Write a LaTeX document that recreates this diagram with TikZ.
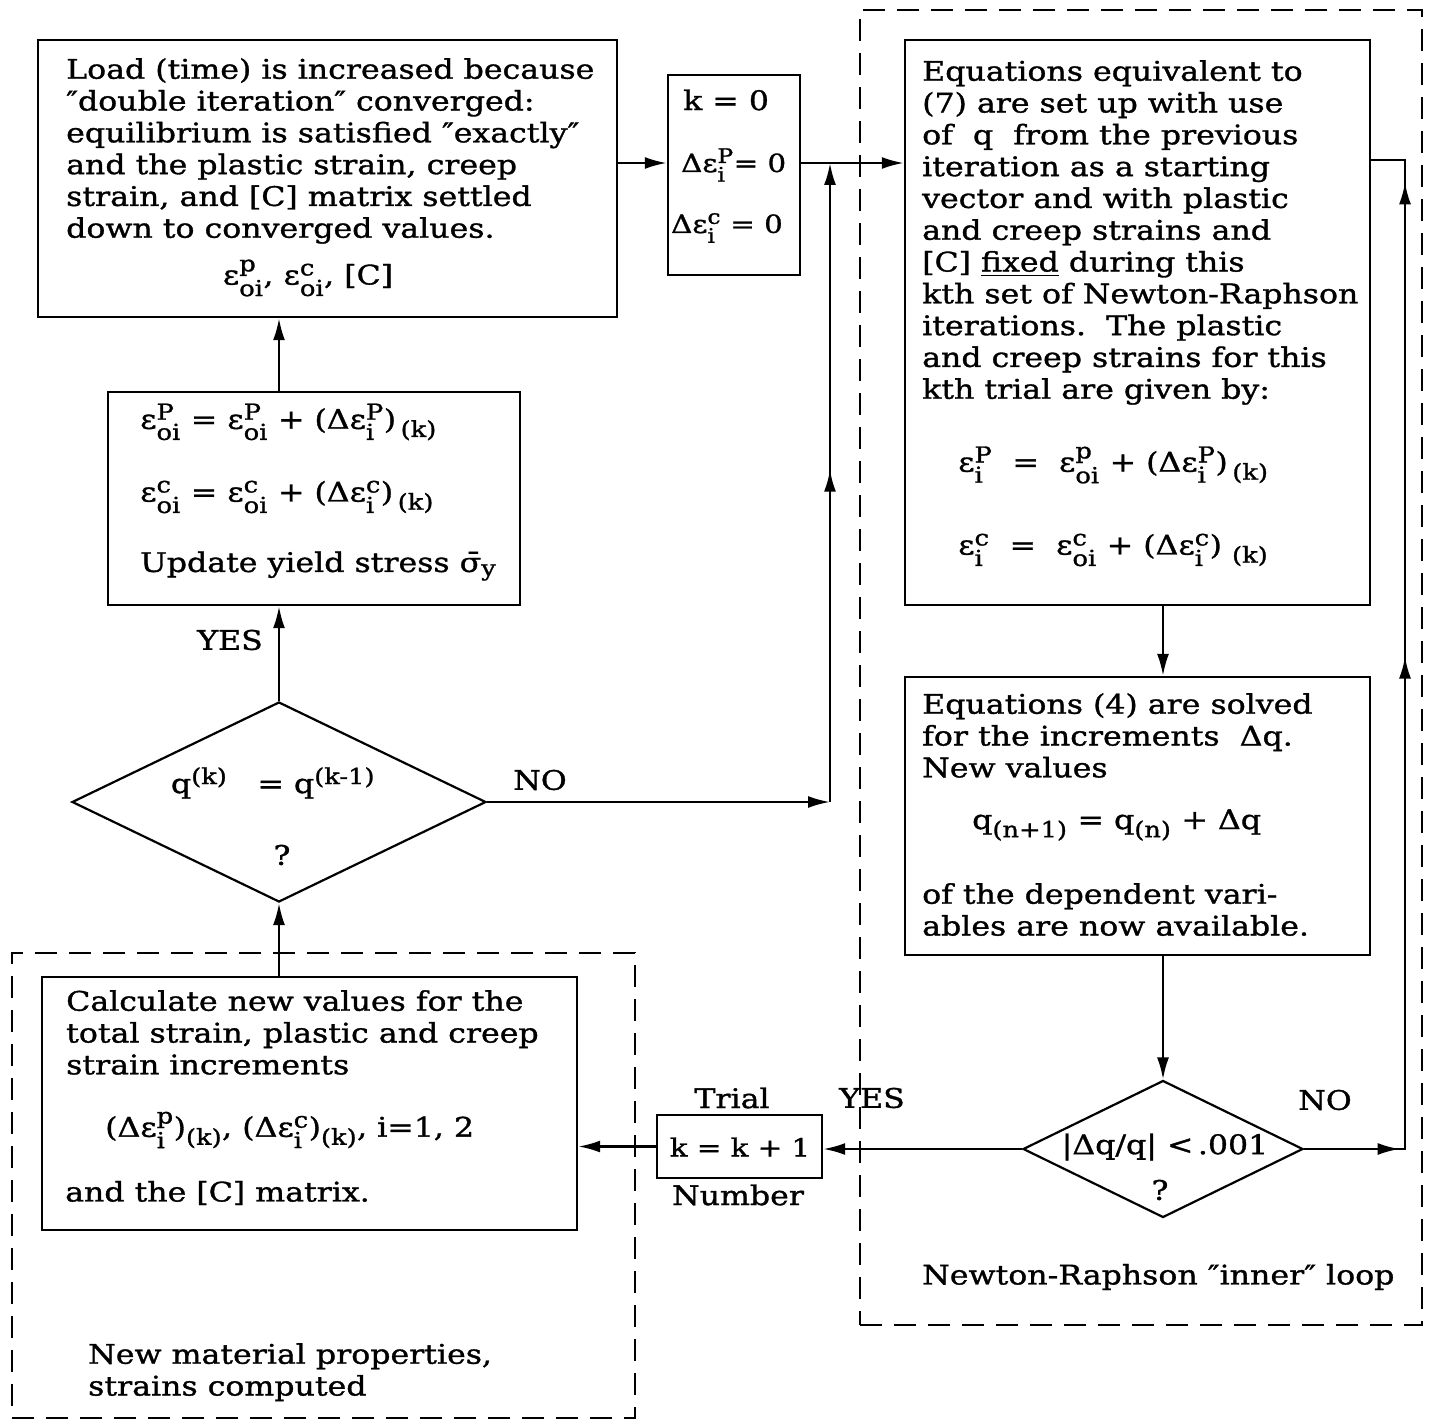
\documentclass[tikz,border=0pt]{standalone}
\usepackage{fontspec}
\usepackage{amsmath}
\setmainfont{DejaVu Serif}[FakeStretch=1.17, FakeBold=1.2]
\DeclareMathSizes{27}{27}{22}{17}
\DeclareMathSizes{25}{25}{20}{15}
\usetikzlibrary{arrows.meta,shapes.geometric,decorations.markings}
\newcommand{\supsub}[2]{\ensuremath{^{\text{#1}}_{\text{#2}}}}
\newcommand{\lsub}[1]{\ensuremath{_{\text{#1}}}}
\newcommand{\usup}[1]{\ensuremath{^{\text{#1}}}}
\newcommand{\qq}{″}
\begin{document}
\begin{tikzpicture}[x=1pt,y=-1pt,
  box/.style={draw, line width=2.4pt, inner sep=0pt},
  txt/.style={inner sep=0pt, align=left, font=\fontsize{27}{31.8}\selectfont},
  lab/.style={inner sep=0pt, font=\fontsize{27}{31.8}\selectfont},
  tip/.tip={Latex[length=22pt,width=12pt]},
  arr/.style={line width=2.4pt, -tip},
  ln/.style={line width=2.4pt},
  dbox/.style={draw, line width=1.8pt, dash pattern=on 22pt off 12pt, inner sep=0pt},
  dia/.style={draw, diamond, line width=2.2pt, inner sep=0pt},
]
\useasboundingbox (0,0) rectangle (1435,1420);

% dashed groups
\node[dbox, minimum width=623, minimum height=465] (Lgrp) at (323.5,1185.5) {};
\node[dbox, minimum width=562, minimum height=1315] (Rgrp) at (1141,667.5) {};

% boxes
\node[box, minimum width=579, minimum height=277] (A) at (327.5,178.5) {};
\node[box, minimum width=132, minimum height=200] (B) at (734,175) {};
\node[box, minimum width=465, minimum height=565] (C) at (1137.5,322.5) {};
\node[box, minimum width=465, minimum height=278] (D) at (1137.5,816) {};
\node[box, minimum width=412, minimum height=213] (I) at (314,498.5) {};
\node[box, minimum width=535, minimum height=253] (G) at (309.5,1103.5) {};
\node[box, minimum width=165, minimum height=63] (F) at (739.5,1146.5) {};
\node[dia, minimum width=414, minimum height=200] (H) at (279,802) {};
\node[dia, minimum width=280, minimum height=137] (E) at (1163,1149) {};

% texts: box A
\node[txt, anchor=north west] at (66,58) {Load (time) is increased because\\
\qq double iteration\qq\ converged:\\
equilibrium is satisfied \qq exactly\qq\\
and the plastic strain, creep\\
strain, and {[}C{]} matrix settled\\
down to converged values.};
\node[lab] at (308,278) {ε\supsub{p}{oi}, ε\supsub{c}{oi}, {[}C{]}};

% box B
\node[lab, anchor=west] at (683,100) {k = 0};
\node[lab, anchor=west, font=\fontsize{25}{30}\selectfont] at (681,165) {Δε\supsub{P}{i}= 0};
\node[lab, anchor=west, font=\fontsize{25}{30}\selectfont] at (671,228) {Δε\supsub{c}{i} = 0};

% box C
\node[txt, anchor=north west] at (922,60) {Equations equivalent to\\
(7) are set up with use\\
of\ \ q\ \ from the previous\\
iteration as a starting\\
vector and with plastic\\
and creep strains and\\
{[}C{]} \underline{fixed} during this\\
kth set of Newton-Raphson\\
iterations.\ \ The plastic\\
and creep strains for this\\
kth trial are given by:};
\node[lab, anchor=west] at (958,465) {ε\supsub{P}{i}\ \ =\ \ ε\supsub{p}{oi} + (Δε\supsub{P}{i})\,\lsub{(k)}};
\node[lab, anchor=west] at (958,550) {ε\supsub{c}{i}\ \ =\ \ ε\supsub{c}{oi} + (Δε\supsub{c}{i})\ \lsub{(k)}};

% box D
\node[txt, anchor=north west] at (922,693) {Equations (4) are solved\\
for the increments\ \ Δq.\\
New values};
\node[lab, anchor=west] at (972,825) {q\lsub{(n+1)} = q\lsub{(n)} + Δq};
\node[txt, anchor=north west] at (922,883) {of the dependent vari-\\
ables are now available.};

% box I
\node[lab, anchor=west] at (140,422) {ε\supsub{P}{oi} = ε\supsub{P}{oi} + (Δε\supsub{P}{i})\,\lsub{(k)}};
\node[lab, anchor=west] at (140,497) {ε\supsub{c}{oi} = ε\supsub{c}{oi} + (Δε\supsub{c}{i})\,\lsub{(k)}};
\node[lab, anchor=west] at (140,566) {Update yield stress σ̄\lsub{y}};

% box G
\node[txt, anchor=north west] at (66,990) {Calculate new values for the\\
total strain, plastic and creep\\
strain increments};
\node[lab, anchor=west] at (105,1130) {(Δε\supsub{p}{i})\lsub{(k)}, (Δε\supsub{c}{i})\lsub{(k)}, i=1, 2};
\node[lab, anchor=west] at (65,1193) {and the {[}C{]} matrix.};

% box F and labels
\node[lab, font=\fontsize{25}{30}\selectfont] at (740,1147) {k = k + 1};
\node[lab] at (732,1098) {Trial};
\node[lab] at (738,1195) {Number};
\node[lab] at (872,1098) {YES};
\node[lab] at (1325,1100) {NO};
\node[lab] at (230,640) {YES};
\node[lab] at (540,780) {NO};

% diamonds text
\node[lab] at (273,783) {q\usup{(k)}\ \ \ = q\usup{(k-1)}};
\node[lab] at (282,855) {?};
\node[lab] at (1165,1147) {|Δq/q| <\,.001};
\node[lab] at (1160,1190) {?};

% group labels
\node[lab, anchor=west] at (922,1277) {Newton-Raphson \qq inner\qq\ loop};
\node[txt, anchor=north west] at (88,1343) {New material properties,\\
strains computed};

% connectors
\coordinate (r1) at (830,163);
\coordinate (r2) at (830,802);
\coordinate (r3) at (1405,1149);
\coordinate (r4) at (1405,160);
\draw[arr] (A.east |- r1) -- (B.west |- r1);
\draw[arr] (B.east |- r1) -- (C.west |- r1);
\draw[arr] (H.east) -- (r2);
\draw[arr, postaction={decorate}, decoration={markings, mark=at position 0.52 with {\arrow{tip}}}] (r2) -- (r1);
\draw[arr] (C.south -| E.north) -- (D.north -| E.north);
\draw[arr] (D.south -| E.north) -- (E.north);
\draw[ln, postaction={decorate}, decoration={markings,
   mark=at position 0.085 with {\arrow{tip}},
   mark=at position 0.528 with {\arrow{tip}},
   mark=at position 0.95 with {\arrow{tip}}}]
   (E.east) -- (r3) -- (r4) -- (C.east |- r4);
\draw[arr] (E.west) -- (F.east |- E.west);
\draw[arr] (F.west) -- (G.east |- F.west);
\draw[arr] (G.north -| H.south) -- (H.south);
\draw[arr] (H.north) -- (I.south -| H.north);
\draw[arr] (I.north -| H.north) -- (A.south -| H.north);
\end{tikzpicture}
\end{document}
